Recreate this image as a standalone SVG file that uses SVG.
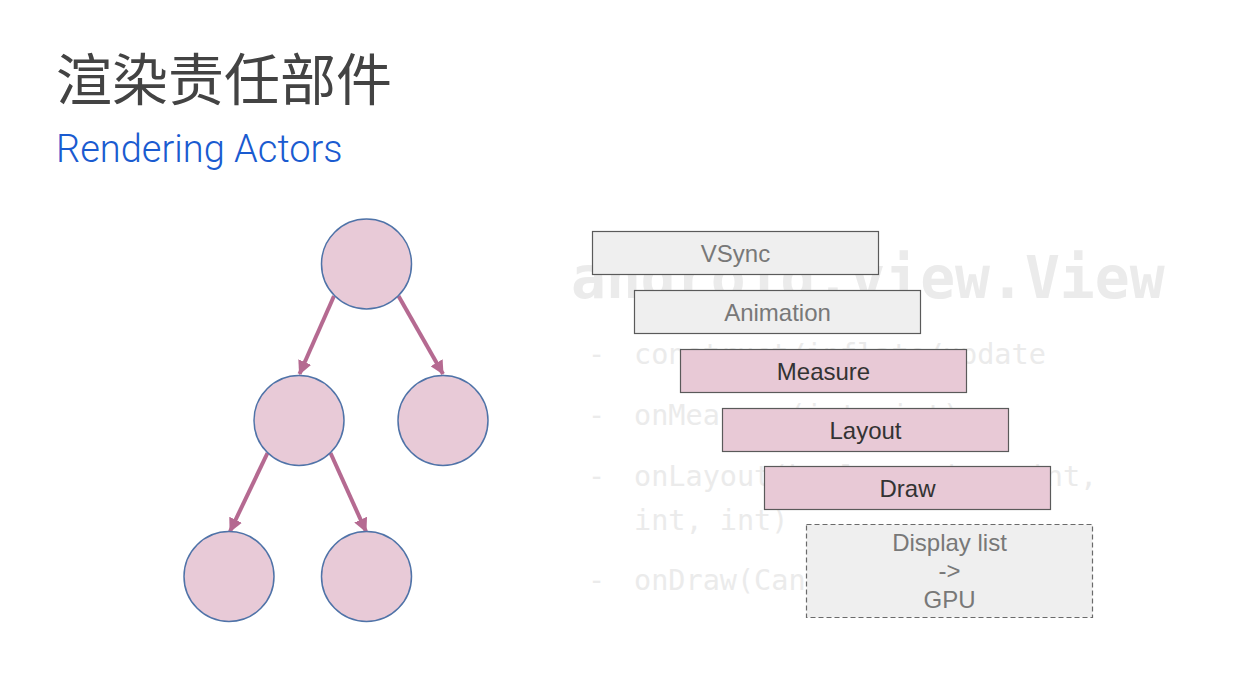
<svg xmlns="http://www.w3.org/2000/svg" width="1244" height="689" viewBox="0 0 1244 689">
<defs>
<style>
.bg{fill:#ebebeb;font-family:"DejaVu Sans Mono","Liberation Mono",monospace}
.big{font-size:58px;font-weight:bold}
.ln{font-size:28.5px}
.node{fill:#e8cad7;stroke:#4f73a8;stroke-width:1.5}
.edge{stroke:#b56a91;stroke-width:4;fill:none}
.gbox{fill:#efefef;stroke:#5a5a5a;stroke-width:1.2}
.pbox{fill:#e8c9d6;stroke:#5a5a5a;stroke-width:1.2}
.dbox{fill:#efefef;stroke:#6a6a6a;stroke-width:1.2;stroke-dasharray:5 3}
.lbl{font-family:"Liberation Sans",Arial,sans-serif;font-size:24px;text-anchor:middle}
.gt{fill:#787878}
.dt{fill:#333333}
</style>
<marker id="ah" viewBox="0 0 14 14" refX="13" refY="7" markerWidth="14" markerHeight="14" markerUnits="userSpaceOnUse" orient="auto">
<path d="M0,0 L14,7 L0,14 z" fill="#b56a91"/>
</marker>
</defs>
<rect width="1244" height="689" fill="#ffffff"/>
<text x="56" y="100" font-family="'Noto Sans CJK SC',sans-serif" font-size="56" fill="#434343">渲染责任部件</text>
<text x="56" y="162" font-family="Roboto,'Liberation Sans',sans-serif" font-size="38" font-weight="300" fill="#1a5bd0">Rendering Actors</text>

<g id="background-code">
<text class="bg big" x="571" y="298">android.view.View</text>
<text class="bg ln" x="588" y="364">-</text>
<text class="bg ln" x="634" y="364">construct/inflate/update</text>
<text class="bg ln" x="588" y="425">-</text>
<text class="bg ln" x="634" y="425">onMeasure(int, int)</text>
<text class="bg ln" x="588" y="486">-</text>
<text class="bg ln" x="634" y="486">onLayout(boolean, int, int,</text>
<text class="bg ln" x="634" y="530">int, int)</text>
<text class="bg ln" x="588" y="590">-</text>
<text class="bg ln" x="634" y="590">onDraw(Canvas)</text>
</g>

<g id="connectors">
<line class="edge" x1="334" y1="296" x2="299.5" y2="374" marker-end="url(#ah)"/>
<line class="edge" x1="398.5" y1="296" x2="443" y2="374" marker-end="url(#ah)"/>
<line class="edge" x1="267.5" y1="453" x2="230" y2="531.5" marker-end="url(#ah)"/>
<line class="edge" x1="330.5" y1="453" x2="366" y2="531.5" marker-end="url(#ah)"/>
</g>

<g id="node-root"><circle class="node" cx="366.5" cy="264" r="45"/></g>
<g id="node-mid-left"><circle class="node" cx="299" cy="420.5" r="45"/></g>
<g id="node-mid-right"><circle class="node" cx="443" cy="420.5" r="45"/></g>
<g id="node-bottom-left"><circle class="node" cx="229" cy="576.5" r="45"/></g>
<g id="node-bottom-right"><circle class="node" cx="366.5" cy="576.5" r="45"/></g>

<g id="vsync"><rect class="gbox" x="592.5" y="231.5" width="286" height="43"/><text class="lbl gt" x="735.5" y="261.5">VSync</text></g>
<g id="animation"><rect class="gbox" x="634.5" y="290.5" width="286" height="43"/><text class="lbl gt" x="777.5" y="320.5">Animation</text></g>
<g id="measure"><rect class="pbox" x="680.5" y="349.5" width="286" height="43"/><text class="lbl dt" x="823.5" y="379.5">Measure</text></g>
<g id="layout"><rect class="pbox" x="722.5" y="408.5" width="286" height="43"/><text class="lbl dt" x="865.5" y="438.5">Layout</text></g>
<g id="draw"><rect class="pbox" x="764.5" y="466.5" width="286" height="43"/><text class="lbl dt" x="907.5" y="496.5">Draw</text></g>
<g id="display-list"><rect class="dbox" x="806.5" y="524.5" width="286" height="93"/>
<text class="lbl gt" x="949.5" y="551">Display list</text>
<text class="lbl gt" x="949.5" y="579">-&gt;</text>
<text class="lbl gt" x="949.5" y="608">GPU</text>
</g>
</svg>
